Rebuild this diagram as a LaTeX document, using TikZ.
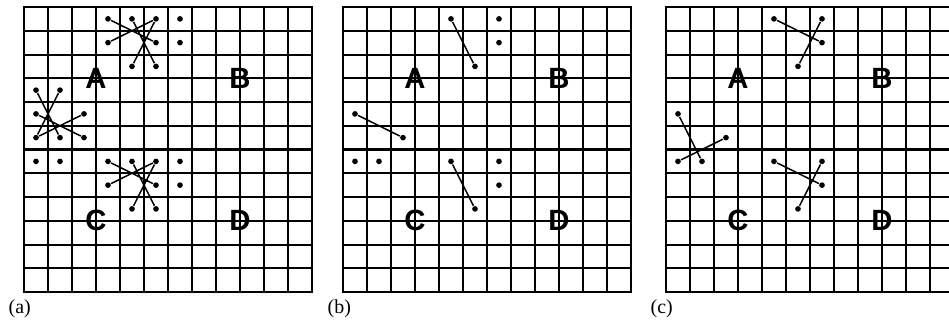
\documentclass[tikz,border=0pt]{standalone}
\usepackage{fontspec}
\setmainfont{Liberation Serif}
\newfontfamily\quadfont{Liberation Sans}

\begin{document}
\begin{tikzpicture}[x=.3mm,y=.3mm,line width=.4mm]
  \tikzset{
    cell/.style={line width=.6mm},
    bold/.style={line width=.85mm},
    site/.style={circle,fill,inner sep=0pt,minimum size=1.7mm},
    bond/.style={line width=.45mm},
    quad/.style={font=\quadfont\bfseries\fontsize{25}{25}\selectfont},
    tag/.style={font=\fontsize{17}{17}\selectfont,anchor=west,inner sep=0pt}
  }
  \useasboundingbox (0,0) rectangle (949,326);
  \clip (0,0) rectangle (949,326);

  \foreach \p/\px in {a/24,b/343,c/666} {
    \node[tag] (\p-tag) at (\px-16,17) {(\p)};
    \begin{scope}[shift={(\px,319)},x=7.2mm,y=-7.125mm]
      \foreach \i in {0,...,12} {
        \draw[cell] (\i,0) -- (\i,12);
        \draw[cell] (0,\i) -- (12,\i);
      }
      \draw[bold] (0,0) rectangle (12,12) (6,0) -- (6,12) (0,6) -- (12,6);
      \node[quad] (\p-A) at (3,3) {A};
      \node[quad] (\p-B) at (9,3) {B};
      \node[quad] (\p-C) at (3,9) {C};
      \node[quad] (\p-D) at (9,9) {D};
    \end{scope}
  }

  \begin{scope}[shift={(24,319)},x=7.2mm,y=-7.125mm]
    \foreach \q/\dy in {t/0,b/6} {
      \foreach \c/\r [count=\k] in {3.5/0.5,4.5/0.5,5.5/0.5,3.5/1.5,5.5/1.5,4.5/2.5,5.5/2.5,6.5/0.5,6.5/1.5}
        \node[site] (a-\q\k) at (\c,\r+\dy) {};
      \draw[bond] (a-\q1) -- (a-\q5) (a-\q4) -- (a-\q3) (a-\q2) -- (a-\q7) (a-\q3) -- (a-\q6);
    }
    \foreach \c/\r [count=\k] in {0.5/3.5,0.5/4.5,0.5/5.5,1.5/3.5,1.5/5.5,2.5/4.5,2.5/5.5,0.5/6.5,1.5/6.5}
      \node[site] (a-l\k) at (\c,\r) {};
    \draw[bond] (a-l1) -- (a-l5) (a-l4) -- (a-l3) (a-l2) -- (a-l7) (a-l3) -- (a-l6);
  \end{scope}

  \begin{scope}[shift={(343,319)},x=7.2mm,y=-7.125mm]
    \foreach \q/\dy in {t/0,b/6} {
      \foreach \c/\r [count=\k] in {4.5/0.5,5.5/2.5,6.5/0.5,6.5/1.5}
        \node[site] (b-\q\k) at (\c,\r+\dy) {};
      \draw[bond] (b-\q1) -- (b-\q2);
    }
    \foreach \c/\r [count=\k] in {0.5/4.5,2.5/5.5,0.5/6.5,1.5/6.5}
      \node[site] (b-l\k) at (\c,\r) {};
    \draw[bond] (b-l1) -- (b-l2);
  \end{scope}

  \begin{scope}[shift={(666,319)},x=7.2mm,y=-7.125mm]
    \foreach \q/\dy in {t/0,b/6} {
      \foreach \c/\r [count=\k] in {4.5/0.5,5.5/2.5,6.5/0.5,6.5/1.5}
        \node[site] (c-\q\k) at (\c,\r+\dy) {};
      \draw[bond] (c-\q1) -- (c-\q4) (c-\q3) -- (c-\q2);
    }
    \foreach \c/\r [count=\k] in {0.5/4.5,2.5/5.5,0.5/6.5,1.5/6.5}
      \node[site] (c-l\k) at (\c,\r) {};
    \draw[bond] (c-l1) -- (c-l4) (c-l3) -- (c-l2);
  \end{scope}
\end{tikzpicture}
\end{document}
